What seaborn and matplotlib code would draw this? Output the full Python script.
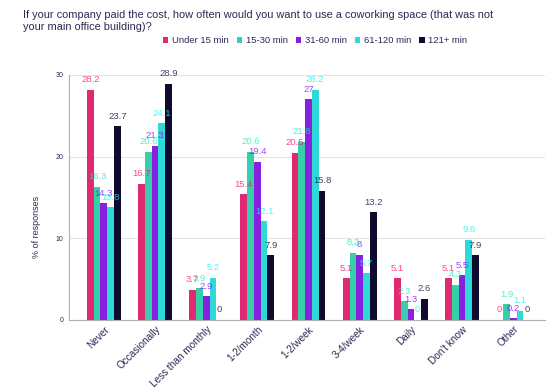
import matplotlib.pyplot as plt
import pandas as pd
import seaborn as sns

frequency = ["Never", "Occasionally", "Less than monthly", "1-2/month", "1-2/week",
             "3-4/week", "Daily", "Don't know", "Other"]
commute = ["Under 15 min", "15-30 min", "31-60 min", "61-120 min", "121+ min"]

under_15 = [28.2, 16.7, 3.7, 15.4, 20.5, 5.1, 5.1, 5.1, 0]
min_15_30 = [16.3, 20.6, 3.9, 20.6, 21.8, 8.2, 2.3, 4.3, 1.9]
min_31_60 = [14.3, 21.3, 2.9, 19.4, 27, 8.0, 1.3, 5.5, 0.2]
min_61_120 = [13.8, 24.1, 5.2, 12.1, 28.2, 5.7, 0, 9.8, 1.1]
min_121 = [23.7, 28.9, 0, 7.9, 15.8, 13.2, 2.6, 7.9, 0]

colors = ["#ff0a6c", "#1de9b6", "#8a00ff", "#12f5f5", "#0a0535"]
navy = "#2a2a55"

series = [under_15, min_15_30, min_31_60, min_61_120, min_121]
rows = []
for name, vals in zip(commute, series):
    for f, v in zip(frequency, vals):
        rows.append([f, name, v])
df = pd.DataFrame(rows, columns=["freq", "commute", "pct"])

sns.set_style("white")
plt.rcParams["font.family"] = ["Liberation Sans", "DejaVu Sans"]

fig = plt.figure(figsize=(5.49, 3.92), dpi=100)
ax = fig.add_axes([0.1257, 0.1837, 0.867, 0.625])

sns.barplot(data=df, x="freq", y="pct", hue="commute", order=frequency,
            hue_order=commute, palette=colors, width=0.66, linewidth=0,
            errorbar=None, ax=ax)

# value labels above each bar
for cont, col in zip(ax.containers, colors):
    for bar in cont:
        h = bar.get_height()
        ax.annotate(f"{h:g}", (bar.get_x() + bar.get_width() / 2, h),
                    xytext=(0, 4), textcoords="offset points",
                    ha="center", va="bottom", fontsize=6.8,
                    color=col, alpha=0.75, clip_on=False)

ax.set_ylim(0, 30)
ax.set_xlim(-0.68, 8.62)
ax.set_yticks([0, 10, 20, 30])
ax.yaxis.grid(True, color="#e3e3e3", linewidth=0.8)
ax.set_axisbelow(True)
for s in ["top", "right"]:
    ax.spines[s].set_visible(False)
ax.spines["left"].set_color("#b0b0b0")
ax.spines["bottom"].set_color("#b0b0b0")
ax.tick_params(axis="y", labelsize=5, colors=navy, length=0, pad=4)
ax.tick_params(axis="x", labelsize=7.2, colors=navy, length=0, pad=3)
plt.setp(ax.get_xticklabels(), rotation=45, ha="right", rotation_mode="anchor")
ax.set_xlabel("")
ax.set_ylabel("% of responses", fontsize=6.5, color=navy)
ax.yaxis.set_label_coords(-0.058, 0.38)

handles, labels = ax.get_legend_handles_labels()
ax.get_legend().remove()
fig.legend(handles, labels, loc="center", bbox_to_anchor=(0.574, 0.897), ncol=5,
           frameon=False, fontsize=6.8, handlelength=0.6, handleheight=0.6,
           handletextpad=0.4, columnspacing=0.8, labelcolor=navy)

fig.text(0.042, 0.975, "If your company paid the cost, how often would you want to use a coworking space (that was not\nyour main office building)?",
         fontsize=7.9, color=navy, va="top", ha="left", linespacing=1.3)

fig.savefig("out.png", dpi=100)
